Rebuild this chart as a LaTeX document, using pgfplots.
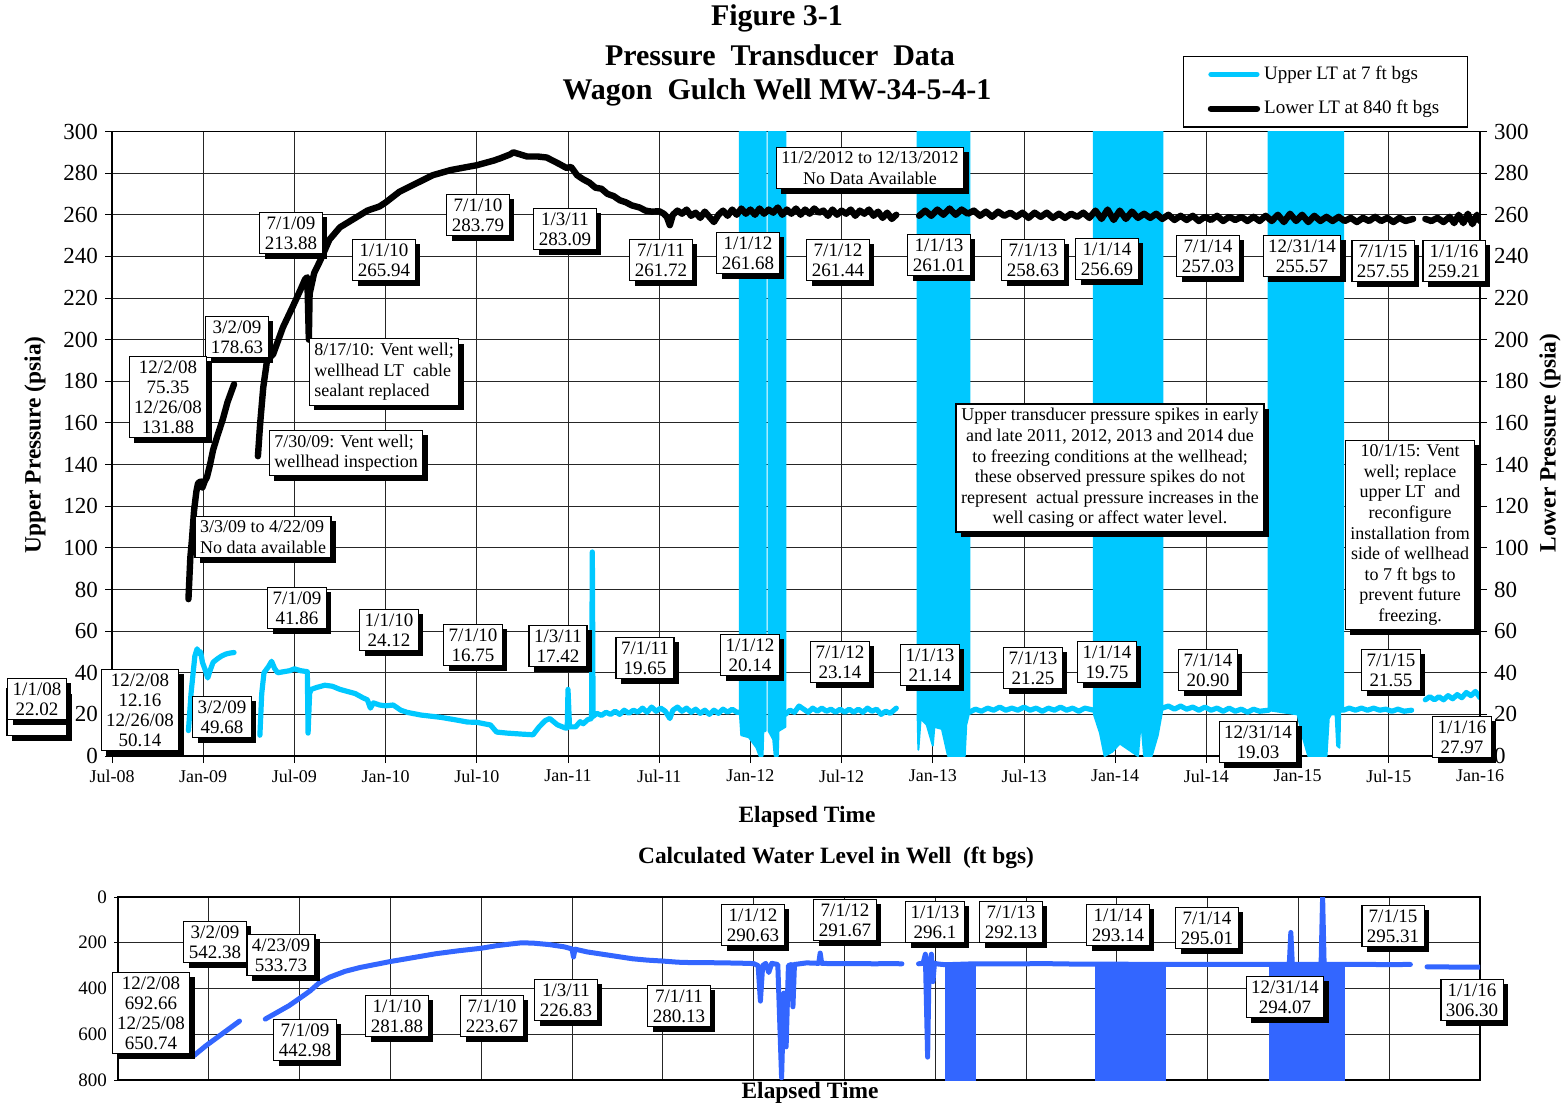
\documentclass[border=0pt]{standalone}
\usepackage{fontspec}
\setmainfont{Liberation Serif}
\usepackage{pgfplots}
\pgfplotsset{compat=1.18}
\usetikzlibrary{shadows}
\definecolor{cyanc}{RGB}{0,200,255}
\definecolor{bluec}{RGB}{51,102,255}
\tikzset{
  upl/.style={cyanc, line width=2.6pt, line join=round, line cap=round},
  blk/.style={fill=cyanc, draw=cyanc, line width=1pt, line join=round},
  lowl/.style={black, line width=3.2pt, line join=round, line cap=round},
  wl/.style={bluec, line width=2.5pt, line join=round, line cap=round},
  wblk/.style={fill=bluec, draw=bluec, line width=1pt},
  lbl/.style={draw=black, line width=0.6pt, fill=white, inner xsep=2.5pt, inner ysep=2.2pt,
    align=center, font=\fontsize{9.5}{10}\selectfont,
    drop shadow={shadow xshift=2.5pt, shadow yshift=-2.5pt, opacity=1, fill=black}},
  note/.style={lbl, font=\fontsize{9}{10.3}\selectfont},
  ttl/.style={font=\fontsize{15}{16}\bfseries\selectfont},
  alab/.style={font=\fontsize{11.7}{13}\bfseries\selectfont}
}
\begin{document}
\begin{tikzpicture}
\useasboundingbox (0,0) rectangle (783pt,-553.5pt);

% ---------------- top axis (left scale) ----------------
\begin{axis}[
  at={(56pt,-378pt)}, anchor=south west, scale only axis,
  width=684pt, height=312.25pt,
  xmin=0, xmax=90, ymin=0, ymax=300,
  xtick={0,6,...,90},
  xticklabels={Jul-08,Jan-09,Jul-09,Jan-10,Jul-10,Jan-11,Jul-11,Jan-12,Jul-12,Jan-13,Jul-13,Jan-14,Jul-14,Jan-15,Jul-15,Jan-16},
  ytick={0,20,...,300},
  ytick pos=left, xtick pos=bottom, tick align=outside, major tick length=3.5pt,
  grid=major, major grid style={black!85, line width=0.5pt},
  axis line style={black, line width=0.6pt}, tick style={black, line width=0.5pt},
  /pgf/number format/assume math mode=true,
  yticklabel style={font=\fontsize{11.5}{12}\selectfont},
  xticklabel style={font=\fontsize{9}{10}\selectfont},
  legend style={at={(0.783,1.1216)}, anchor=north west, draw=black, line width=0.6pt,
    font=\fontsize{9.5}{11}\selectfont, inner xsep=12pt, inner ysep=3pt, row sep=5pt},
  legend cell align=left,
  legend image code/.code={\draw[#1] (0pt,0pt) -- (23pt,0pt);},
]
\addlegendimage{upl}
\addlegendentry{Upper LT at 7 ft bgs}
\addlegendimage{lowl}
\addlegendentry{Lower LT at 840 ft bgs}

% Upper LT (cyan)
\addplot[upl, forget plot] coordinates {(5.03,12.2) (5.2,30) (5.45,48) (5.6,51.5) (5.75,49) (5.83,50.1) (5.95,45) (6.1,42) (6.3,37.5) (6.45,41) (6.65,45) (6.9,46.5) (7.2,48) (7.5,49) (7.8,49.5) (8.03,49.7)};
\addplot[upl, forget plot] coordinates {(9.73,10) (9.85,30) (10.0,40) (10.3,43) (10.5,45.5) (10.7,42) (10.9,40) (11.3,40.5) (11.7,41) (12.0,41.9) (12.4,41) (12.85,40.5) (12.9,11) (13.0,30) (13.1,32) (13.5,33) (14.0,34) (14.5,33.5) (15.0,32) (15.5,31) (16.0,30) (16.5,28) (16.8,27) (17.0,23) (17.2,25.5) (17.6,24.5) (18.0,24.1) (18.5,24.5) (19.0,22) (19.4,21) (20.3,19.7) (21.6,18.6) (22.5,17.5) (23.4,16.3) (24.0,16.2) (24.9,14.9) (25.3,11.5) (26.0,11) (27.0,10.5) (27.7,10.2) (28.1,14) (28.5,17) (28.8,18) (29.3,15) (29.8,13.5) (29.95,13.5) (30.0,32) (30.1,14) (30.5,14) (30.8,16.5) (31.0,15.5) (31.3,17.5) (31.55,18) (31.6,98) (31.65,19) (31.9,20.5) (32.2,19.5) (32.5,21) (32.8,20) (33.1,21.5) (33.4,20) (33.7,22) (34.0,20.5) (34.3,22) (34.6,21) (34.9,23) (35.2,21) (35.5,23.5) (35.8,21.5) (36.1,23) (36.4,21.5) (36.7,18) (36.9,22) (37.2,23.5) (37.5,21.5) (37.8,23) (38.1,21) (38.4,22.5) (38.7,20.5) (39.0,22) (39.3,20) (39.6,22) (39.9,20.5) (40.2,22.5) (40.5,21) (40.8,22.5) (41.1,21) (41.3,21)};
\addplot[blk, forget plot] coordinates {(41.3,21) (41.4,10) (41.9,9) (42.4,4) (42.6,0) (42.8,0) (42.85,12) (43.0,12) (43.0,320) (41.3,320)} -- cycle;
\addplot[blk, forget plot] coordinates {(43.2,12) (43.5,8) (43.6,0) (43.8,0) (43.85,12) (44.3,14) (44.3,320) (43.2,320)} -- cycle;
\addplot[upl, forget plot] coordinates {(44.3,20) (44.6,22) (44.9,21) (45.2,24) (45.5,22.5) (45.8,21) (46.1,23) (46.4,21.5) (46.7,23) (47.0,21.5) (47.3,22.5) (47.6,21) (47.9,22.5) (48.2,21) (48.5,22.5) (48.8,21) (49.1,22.5) (49.4,21) (49.7,23) (50.0,21.5) (50.3,22.5) (50.6,20) (50.9,21.5) (51.2,20.5) (51.6,23)};
\addplot[blk, forget plot] coordinates {(53.0,20) (53.05,3) (53.2,18) (53.6,15) (54.0,5) (54.1,14) (54.6,13) (55.0,0) (56.1,0) (56.2,15) (56.4,21) (56.4,320) (53.0,320)} -- cycle;
\addplot[upl, forget plot] coordinates {(56.4,21) (56.8,22.5) (57.2,21.5) (57.6,23) (58.0,22) (58.4,23.5) (58.8,22) (59.2,23) (59.6,22) (60.0,23.5) (60.4,22) (60.8,23) (61.2,21.5) (61.6,23) (62.0,22) (62.4,23.5) (62.8,22) (63.2,23) (63.6,21.5) (64.0,23) (64.6,22)};
\addplot[blk, forget plot] coordinates {(64.6,20) (65.0,11) (65.3,0) (65.8,2) (66.3,6) (66.9,3) (67.5,0) (67.7,18) (67.9,0) (68.4,0) (68.8,10) (69.1,22) (69.1,320) (64.6,320)} -- cycle;
\addplot[upl, forget plot] coordinates {(69.1,23) (69.5,24) (69.9,22.5) (70.3,24) (70.7,22.5) (71.1,23.5) (71.5,22) (71.9,23.5) (72.3,22) (72.7,23) (73.1,21.5) (73.5,23) (73.9,21.5) (74.3,22.5) (74.7,21) (75.1,22.5) (75.5,21.5) (76.1,22)};
\addplot[blk, forget plot] coordinates {(76.1,22) (77,21) (78.0,20) (78.3,10) (78.7,0) (79.9,0) (80.05,18) (80.2,20) (80.5,20) (80.6,5) (80.75,4) (80.8,21) (81.0,22) (81.0,320) (76.1,320)} -- cycle;
\addplot[upl, forget plot] coordinates {(81.0,22) (81.4,23) (81.8,22) (82.2,23) (82.6,22) (83.0,23) (83.4,22) (83.8,22.5) (84.2,21.5) (84.6,22.5) (85.0,21.5) (85.5,22)};
\addplot[upl, forget plot] coordinates {(86.4,27) (86.7,28.5) (87.0,27) (87.3,28.5) (87.6,27) (87.9,29) (88.2,27.5) (88.5,29.5) (88.8,28) (89.1,30.5) (89.4,29) (89.7,31) (90,28)};

% Lower LT (black)
\addplot[lowl, forget plot] coordinates {(5.03,75.35) (5.15,95) (5.26,104) (5.4,118) (5.55,127) (5.66,131) (5.83,131.9) (5.95,129) (6.1,132) (6.25,134) (6.45,140) (6.65,147) (6.9,153) (7.3,162) (7.6,170) (8.03,178.6)};
\addplot[lowl, forget plot] coordinates {(9.6,144) (9.75,160) (9.95,177) (10.2,190) (10.6,193) (11.25,206) (11.9,216) (12.4,224) (12.7,229) (12.85,230) (12.95,200) (13.0,222) (13.3,232) (13.7,238) (14.3,248) (15.0,254) (15.9,258) (16.8,262) (17.6,264) (18.0,265.9) (18.9,271) (20,275) (21.1,279) (22.3,281.5) (23.4,283) (24.0,283.8) (25.1,286) (25.5,287) (26.2,289) (26.4,290) (27.3,288) (28.0,288) (28.6,287.5) (29.0,286) (29.4,284.5) (29.9,282.5) (30.2,283) (30.6,279) (31.0,277) (31.4,275.5) (31.8,273) (32.2,272.5) (32.6,270) (33.0,269) (33.4,267) (33.8,266) (34.2,264.5) (34.7,263.5) (35.1,262) (35.5,261.5) (36.0,261.7) (36.3,260.5) (36.5,259) (36.7,255) (36.9,260) (37.2,262) (37.5,260.5) (37.8,262.5) (38.1,259.5) (38.4,261) (38.7,258.5) (39.0,261.5) (39.3,259) (39.6,256.5) (39.9,260) (40.2,262) (40.5,259.5) (40.8,262.5) (41.1,260) (41.4,263) (41.7,260.5) (42.0,262.5) (42.3,260) (42.6,263) (42.9,260.5) (43.2,262.5) (43.5,261) (43.8,263.5) (44.1,260) (44.4,262.5) (44.7,260.5) (45.0,263) (45.3,260) (45.6,262.5) (45.9,260.5) (46.2,263) (46.5,261) (46.8,262) (47.1,259.5) (47.4,262.5) (47.7,260) (48.0,262) (48.3,260.5) (48.6,262.5) (48.9,259.5) (49.2,262) (49.5,260.5) (49.8,262.5) (50.1,259.5) (50.4,261.5) (50.7,258.5) (51.0,261) (51.3,258) (51.6,260)};
\addplot[lowl, forget plot] coordinates {(53.1,259.5) (53.5,262) (53.9,259.5) (54.3,262.5) (54.7,260) (55.1,263) (55.5,260) (55.9,262.5) (56.3,260.5) (56.7,262) (57.1,259.5) (57.5,261.5) (57.9,259) (58.3,261.5) (58.7,259.5) (59.1,261) (59.5,259) (59.9,261) (60.3,258.5) (60.7,261) (61.1,259) (61.5,261) (61.9,258.5) (62.3,260.5) (62.7,258.5) (63.1,260.5) (63.5,259) (63.9,261) (64.3,258.5) (64.7,262) (65.1,258) (65.5,262.5) (65.9,257.5) (66.3,262) (66.7,258) (67.1,261.5) (67.5,258.5) (67.9,260.5) (68.3,258.5) (68.7,260.5) (69.1,258) (69.5,260) (69.9,257.5) (70.3,259.5) (70.7,257.5) (71.1,259.5) (71.5,257) (71.9,259) (72.3,257.5) (72.7,259.5) (73.1,257) (73.5,259) (73.9,257.5) (74.3,259) (74.7,257) (75.1,259) (75.5,257) (75.9,259.5) (76.3,257) (76.7,260) (77.1,256.5) (77.5,260.5) (77.9,257) (78.3,260) (78.7,256.5) (79.1,259.5) (79.5,257) (79.9,259) (80.3,257) (80.7,259) (81.1,257) (81.5,258.5) (81.9,256.5) (82.3,258.5) (82.7,257) (83.1,259) (83.5,257) (83.9,258.5) (84.3,256.5) (84.7,258.5) (85.1,257) (85.6,258)};
\addplot[lowl, forget plot] coordinates {(86.4,258) (86.8,257) (87.2,258.5) (87.6,256.5) (88.0,259) (88.3,256) (88.6,260) (88.9,256) (89.2,260.5) (89.5,255.5) (89.8,260) (90,257)};
\end{axis}

% ---------------- top axis (right scale) ----------------
\begin{axis}[
  at={(56pt,-378pt)}, anchor=south west, scale only axis,
  width=684pt, height=312.25pt,
  xmin=0, xmax=90, ymin=0, ymax=300,
  axis y line*=right, axis x line=none,
  ytick={0,20,...,300}, tick align=outside, major tick length=3.5pt,
  axis line style={black, line width=0.6pt}, tick style={black, line width=0.5pt},
  /pgf/number format/assume math mode=true,
  yticklabel style={font=\fontsize{11.5}{12}\selectfont},
]
\addplot[draw=none, forget plot] coordinates {(0,0) (90,300)};
\end{axis}

% ---------------- bottom axis ----------------
\begin{axis}[
  at={(59pt,-540pt)}, anchor=south west, scale only axis,
  width=681pt, height=91.5pt,
  xmin=0, xmax=90, ymin=0, ymax=800, y dir=reverse,
  xtick={0,6,...,90}, xticklabels={},
  ytick={0,200,...,800},
  ytick pos=left, xtick pos=bottom, tick align=outside, major tick length=2pt,
  xtick style={draw=none},
  grid=major, major grid style={black!85, line width=0.5pt},
  axis line style={black, line width=0.6pt}, tick style={black, line width=0.5pt},
  /pgf/number format/assume math mode=true,
  yticklabel style={font=\fontsize{9.5}{10}\selectfont},
]
\addplot[wl] coordinates {(5.03,692.7) (5.8,650.7) (8.03,542.4)};
\addplot[wl] coordinates {(9.73,533.7) (10.5,505) (11.3,475) (12.0,443) (12.7,410) (13.3,375) (14.0,350) (15.0,325) (16.0,308) (17.0,295) (18.0,282) (19.5,265) (21.0,248) (22.5,235) (24.0,224) (25.0,213) (26.0,205) (26.7,200) (27.5,202) (28.5,208) (29.5,218) (30.0,227) (30.1,262) (30.2,228) (31,240) (32,250) (33,260) (34,270) (35,276) (36,280) (37,285) (38,287) (39,287) (40,288) (41,289) (41.8,290.6) (42.0,291) (42.3,300) (42.45,455) (42.6,300) (42.8,290) (43.0,330) (43.2,290) (43.6,295) (43.85,790) (44.0,420) (44.15,655) (44.3,300) (44.5,295) (44.6,480) (44.7,295) (45.5,288) (46.3,290) (46.4,245) (46.5,290) (47,291) (48,291.7) (49,291) (50,292) (51,291) (51.8,292)};
\addplot[wl] coordinates {(52.9,292) (53.2,290) (53.35,250) (53.5,700) (53.6,290) (53.75,250) (53.85,370) (53.95,290) (54.2,293) (54.7,296) (56.6,292) (57,292) (58,292.1) (59,292) (60,292) (61,291) (62,292) (63,293) (64,293) (64.6,293) (69.2,295) (70,295) (71,295) (72,295) (73,294) (74,294) (75,294) (76.1,294) (77.4,294) (77.5,155) (77.6,294) (79.5,294) (79.6,0) (79.7,294) (81.0,294) (82,295) (83,295) (84,295.3) (85,295) (85.4,295)};
\addplot[wl] coordinates {(86.5,305) (88,306) (90,306.3)};
\addplot[wblk] coordinates {(54.7,290) (56.6,290) (56.6,810) (54.7,810)} -- cycle;
\addplot[wblk] coordinates {(64.6,287) (69.2,287) (69.2,810) (64.6,810)} -- cycle;
\addplot[wblk] coordinates {(76.1,298) (81.0,298) (81.0,810) (76.1,810)} -- cycle;
\end{axis}

% ---------------- text (pixel coordinates) ----------------
\begin{scope}[x=0.5pt,y=-0.5pt]
\node[ttl] at (777,18) {Figure 3-1};
\node[ttl] at (780,55) {Pressure\ \ Transducer\ \ Data};
\node[ttl] at (777,92) {Wagon\ \ Gulch Well MW-34-5-4-1};
\node[alab, rotate=90] at (35,445) {Upper Pressure (psia)};
\node[alab, rotate=90] at (1550,443) {Lower Pressure (psia)};
\node[alab] at (807,817) {Elapsed Time};
\node[alab] at (836,858) {Calculated Water Level in Well\ \ (ft bgs)};
\node[alab] at (810,1093) {Elapsed Time};

% top labels: lower LT
\node[lbl] at (291,233) {7/1/09\\213.88};
\node[lbl] at (384,260) {1/1/10\\265.94};
\node[lbl] at (478,215) {7/1/10\\283.79};
\node[lbl] at (237,337) {3/2/09\\178.63};
\node[lbl] at (168,397) {12/2/08\\75.35\\12/26/08\\131.88};
\node[note, align=left] at (384,372) {8/17/10: Vent well;\\wellhead LT\ \ cable\\sealant replaced};
\node[note, align=left] at (346,453) {7/30/09: Vent well;\\wellhead inspection};
\node[note, align=left] at (263,537) {3/3/09 to 4/22/09\\No data available};
\node[lbl] at (565,229) {1/3/11\\283.09};
\node[lbl] at (661,260) {7/1/11\\261.72};
\node[lbl] at (748,253) {1/1/12\\261.68};
\node[lbl] at (838,260) {7/1/12\\261.44};
\node[lbl] at (939,255) {1/1/13\\261.01};
\node[note] at (870,168) {11/2/2012 to 12/13/2012\\No Data Available};
\node[lbl] at (1033,260) {7/1/13\\258.63};
\node[lbl] at (1107,259) {1/1/14\\256.69};
\node[lbl] at (1208,256) {7/1/14\\257.03};
\node[lbl] at (1302,256) {12/31/14\\255.57};
\node[lbl] at (1383,261) {7/1/15\\257.55};
\node[lbl] at (1454,261) {1/1/16\\259.21};
% top labels: upper LT
\node[lbl, minimum width=30pt, minimum height=23.5pt] at (37,712) {};
\node[lbl] at (37,699) {1/1/08\\22.02};
\node[lbl] at (140,710) {12/2/08\\12.16\\12/26/08\\50.14};
\node[lbl] at (222,717) {3/2/09\\49.68};
\node[lbl] at (297,608) {7/1/09\\41.86};
\node[lbl] at (389,630) {1/1/10\\24.12};
\node[lbl] at (473,645) {7/1/10\\16.75};
\node[lbl] at (558,646) {1/3/11\\17.42};
\node[lbl] at (645,658) {7/1/11\\19.65};
\node[lbl] at (750,655) {1/1/12\\20.14};
\node[lbl] at (840,662) {7/1/12\\23.14};
\node[lbl] at (930,665) {1/1/13\\21.14};
\node[lbl] at (1033,668) {7/1/13\\21.25};
\node[lbl] at (1107,662) {1/1/14\\19.75};
\node[lbl] at (1208,670) {7/1/14\\20.90};
\node[lbl] at (1258,742) {12/31/14\\19.03};
\node[lbl] at (1391,670) {7/1/15\\21.55};
\node[lbl] at (1462,737) {1/1/16\\27.97};
\node[note] at (1110,468) {Upper transducer pressure spikes in early\\and late 2011, 2012, 2013 and 2014 due\\to freezing conditions at the wellhead;\\these observed pressure spikes do not\\represent\ \ actual pressure increases in the\\well casing or affect water level.};
\node[note] at (1410,535) {10/1/15: Vent\\well; replace\\upper LT\ \ and\\reconfigure\\installation from\\side of wellhead\\to 7 ft bgs to\\prevent future\\freezing.};

% bottom labels
\node[lbl] at (215,942) {3/2/09\\542.38};
\node[lbl] at (281,955) {4/23/09\\533.73};
\node[lbl] at (151,1013) {12/2/08\\692.66\\12/25/08\\650.74};
\node[lbl] at (305,1040) {7/1/09\\442.98};
\node[lbl] at (397,1016) {1/1/10\\281.88};
\node[lbl] at (492,1016) {7/1/10\\223.67};
\node[lbl] at (566,1000) {1/3/11\\226.83};
\node[lbl] at (679,1006) {7/1/11\\280.13};
\node[lbl] at (753,925) {1/1/12\\290.63};
\node[lbl] at (845,920) {7/1/12\\291.67};
\node[lbl] at (935,922) {1/1/13\\296.1};
\node[lbl] at (1011,922) {7/1/13\\292.13};
\node[lbl] at (1118,925) {1/1/14\\293.14};
\node[lbl] at (1207,928) {7/1/14\\295.01};
\node[lbl] at (1285,997) {12/31/14\\294.07};
\node[lbl] at (1393,926) {7/1/15\\295.31};
\node[lbl] at (1472,1000) {1/1/16\\306.30};
\end{scope}
\end{tikzpicture}
\end{document}
